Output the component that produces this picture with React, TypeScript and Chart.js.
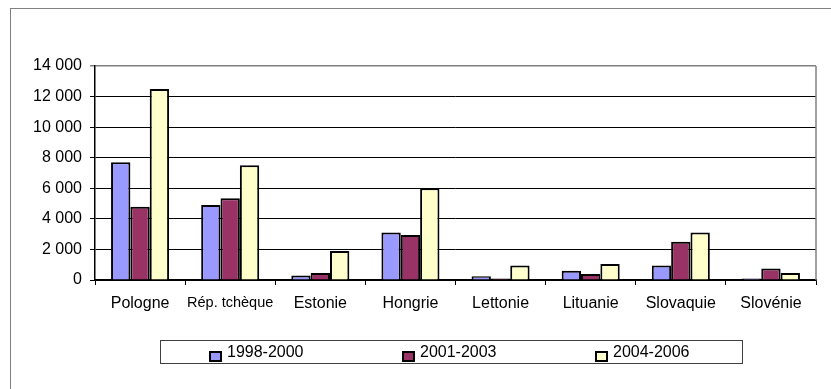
import React, { useEffect, useRef } from "react";
import { Chart, registerables } from "chart.js";

Chart.register(...registerables);

const categories = ["Pologne", "Rép. tchèque", "Estonie", "Hongrie", "Lettonie", "Lituanie", "Slovaquie", "Slovénie"];
const seriesLabels = ["1998-2000", "2001-2003", "2004-2006"];
const values1998 = [7700, 4900, 300, 3100, 250, 600, 950, 100];
const values2001 = [4800, 5350, 450, 2950, 100, 400, 2500, 750];
const values2004 = [12500, 7500, 1900, 6000, 950, 1050, 3100, 450];
const seriesColors = ["#9999FF", "#993366", "#FFFFCC"];
const yMax = 14000;
const yStep = 2000;

const FONT = '"Liberation Sans", Arial, sans-serif';

const fmt = (v: number) => String(v).replace(/\B(?=(\d{3})+(?!\d))/g, " ");

const framePlugin = {
  id: "frame",
  afterDraw(chart: any) {
    const ctx = chart.ctx;
    const a = chart.chartArea;
    ctx.save();
    // outer frame
    ctx.strokeStyle = "#808080";
    ctx.lineWidth = 1;
    ctx.strokeRect(10.5, 8.5, 900, 500);
    // plot right border
    ctx.lineWidth = 1.5;
    ctx.beginPath();
    ctx.moveTo(a.right, a.top);
    ctx.lineTo(a.right, a.bottom);
    ctx.stroke();
    // legend
    const lx = 160, ly = 340, lw = 582, lh = 23;
    ctx.strokeStyle = "#404040";
    ctx.lineWidth = 1;
    ctx.strokeRect(lx + 0.5, ly + 0.5, lw, lh);
    const starts = [210, 403, 596];
    ctx.font = `16px ${FONT}`;
    ctx.textBaseline = "middle";
    ctx.fillStyle = "#000";
    chart.data.datasets.forEach((ds: any, i: number) => {
      const x = starts[i];
      const y = 352;
      ctx.fillStyle = ds.backgroundColor;
      ctx.fillRect(x, y, 11, 9);
      ctx.strokeStyle = "#000";
      ctx.lineWidth = 2;
      ctx.strokeRect(x, y, 11, 9);
      ctx.fillStyle = "#000";
      ctx.fillText(ds.label, x + 17, 353);
    });
    ctx.restore();
  },
};

export default function App() {
  const ref = useRef<HTMLCanvasElement>(null);
  useEffect(() => {
    if (!ref.current) return;
    const data = [values1998, values2001, values2004];
    const chart = new Chart(ref.current, {
      type: "bar",
      data: {
        labels: categories,
        datasets: seriesLabels.map((label, i) => ({
          label,
          data: data[i],
          backgroundColor: seriesColors[i],
          borderColor: "#000",
          borderWidth: 2,
          categoryPercentage: 0.644,
          barPercentage: 1,
        })),
      },
      options: {
        responsive: false,
        animation: false,
        layout: { padding: { top: 66, right: 15, left: 0, bottom: 0 } },
        plugins: { legend: { display: false }, tooltip: { enabled: false } },
        scales: {
          x: {
            z: 1,
            afterFit: (s: any) => { s.height = 109; },
            grid: { drawOnChartArea: false, drawTicks: true, tickLength: 5, color: "#000", offset: true },
            border: { color: "#000", width: 1.5 },
            ticks: {
              color: "#000",
              padding: 9,
              maxRotation: 0,
              minRotation: 0,
              autoSkip: false,
              font: (c: any) => (c.index === 1 ? { family: FONT, size: 14.5 } : { family: FONT, size: 16 }),
            },
          },
          y: {
            min: 0,
            max: yMax,
            afterFit: (s: any) => { s.width = 95; },
            grid: {
              color: (c: any) => (c.tick && c.tick.value === yMax ? "#808080" : "#000"),
              lineWidth: (c: any) => (c.tick && c.tick.value === yMax ? 1.5 : 1),
              tickLength: 5,
              drawTicks: true,
            },
            border: { color: "#000", width: 1.5 },
            ticks: {
              stepSize: yStep,
              color: "#000",
              padding: 8,
              font: { family: FONT, size: 16 },
              callback: (v: any) => fmt(Number(v)),
            },
          },
        },
      },
      plugins: [framePlugin],
    });
    return () => chart.destroy();
  }, []);
  return (
    <div style={{ position: "absolute", left: 0, top: 0, width: 831, height: 389, background: "#fff" }}>
      <canvas ref={ref} width={831} height={389} />
    </div>
  );
}
